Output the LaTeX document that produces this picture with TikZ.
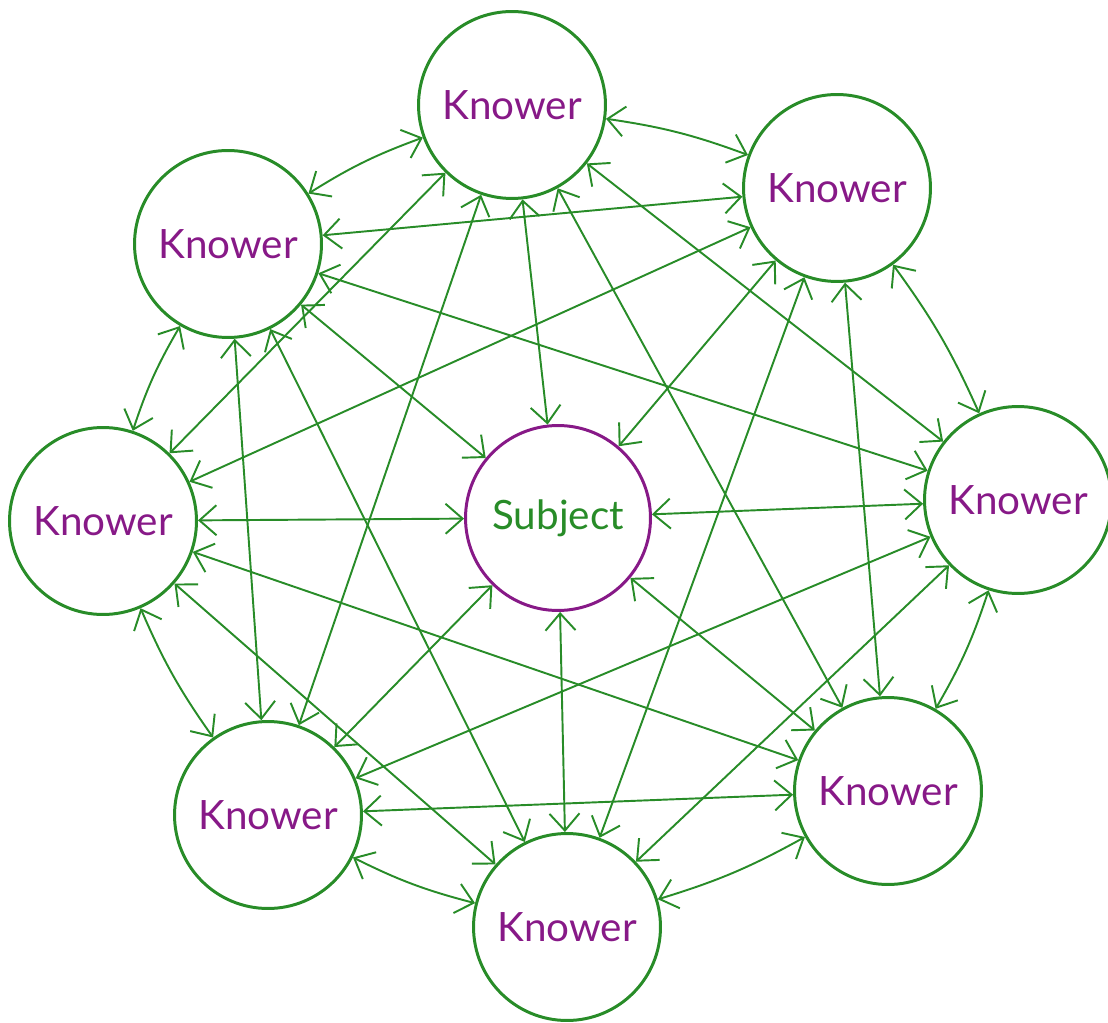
\documentclass[tikz,border=0pt]{standalone}
\usepackage{fontspec}
\setmainfont{Lato}
\usetikzlibrary{arrows.meta}
\definecolor{KnowGreen}{RGB}{40,140,40}
\definecolor{KnowPurple}{RGB}{135,25,135}

\begin{document}
\begin{tikzpicture}[x=0.02cm, y=-0.02cm,
    knower/.style={circle, draw=KnowGreen, line width=1.7pt, minimum size=3.74cm, text=KnowPurple, font=\fontsize{23}{27}\selectfont},
    subject/.style={circle, draw=KnowPurple, line width=1.7pt, minimum size=3.7cm, text=KnowGreen, font=\fontsize{23}{27}\selectfont},
    link/.style={KnowGreen, line width=1.1pt, {Straight Barb[length=3.4mm, width=6mm]}-{Straight Barb[length=3.4mm, width=6mm]}}]
    \useasboundingbox (0,0) rectangle (1108,1023);

    % Subject in the middle
    \node[subject] (subj) at (558,518) {Subject};

    % the eight knowers round it
    \node[knower] (kT)  at (512,105) {Knower};
    \node[knower] (kTR) at (837,188) {Knower};
    \node[knower] (kR)  at (1018,500) {Knower};
    \node[knower] (kBR) at (888,791) {Knower};
    \node[knower] (kB)  at (567,927) {Knower};
    \node[knower] (kBL) at (268,815) {Knower};
    \node[knower] (kL)  at (103,521) {Knower};
    \node[knower] (kTL) at (228,244) {Knower};

    % outer ring
    \draw[link] (kT) to[bend left=6] (kTR);
    \draw[link] (kTR) to[bend left=6] (kR);
    \draw[link] (kR) to[bend left=6] (kBR);
    \draw[link] (kBR) to[bend left=6] (kB);
    \draw[link] (kB) to[bend left=6] (kBL);
    \draw[link] (kBL) to[bend left=6] (kL);
    \draw[link] (kL) to[bend left=6] (kTL);
    \draw[link] (kTL) to[bend left=6] (kT);

    % skipping one
    \draw[link] (kT) -- (kR);
    \draw[link] (kTR) -- (kBR);
    \draw[link] (kR) -- (kB);
    \draw[link] (kBR) -- (kBL);
    \draw[link] (kB) -- (kL);
    \draw[link] (kBL) -- (kTL);
    \draw[link] (kL) -- (kT);
    \draw[link] (kTL) -- (kTR);

    % skipping two
    \draw[link] (kT) -- (kBR);
    \draw[link] (kTR) -- (kB);
    \draw[link] (kR) -- (kBL);
    \draw[link] (kBR) -- (kL);
    \draw[link] (kB) -- (kTL);
    \draw[link] (kBL) -- (kT);
    \draw[link] (kL) -- (kTR);
    \draw[link] (kTL) -- (kR);

    % into the subject
    \draw[link] (kT) -- (subj);
    \draw[link] (kTR) -- (subj);
    \draw[link] (kR) -- (subj);
    \draw[link] (kBR) -- (subj);
    \draw[link] (kB) -- (subj);
    \draw[link] (kBL) -- (subj);
    \draw[link] (kL) -- (subj);
    \draw[link] (kTL) -- (subj);

\end{tikzpicture}
\end{document}
